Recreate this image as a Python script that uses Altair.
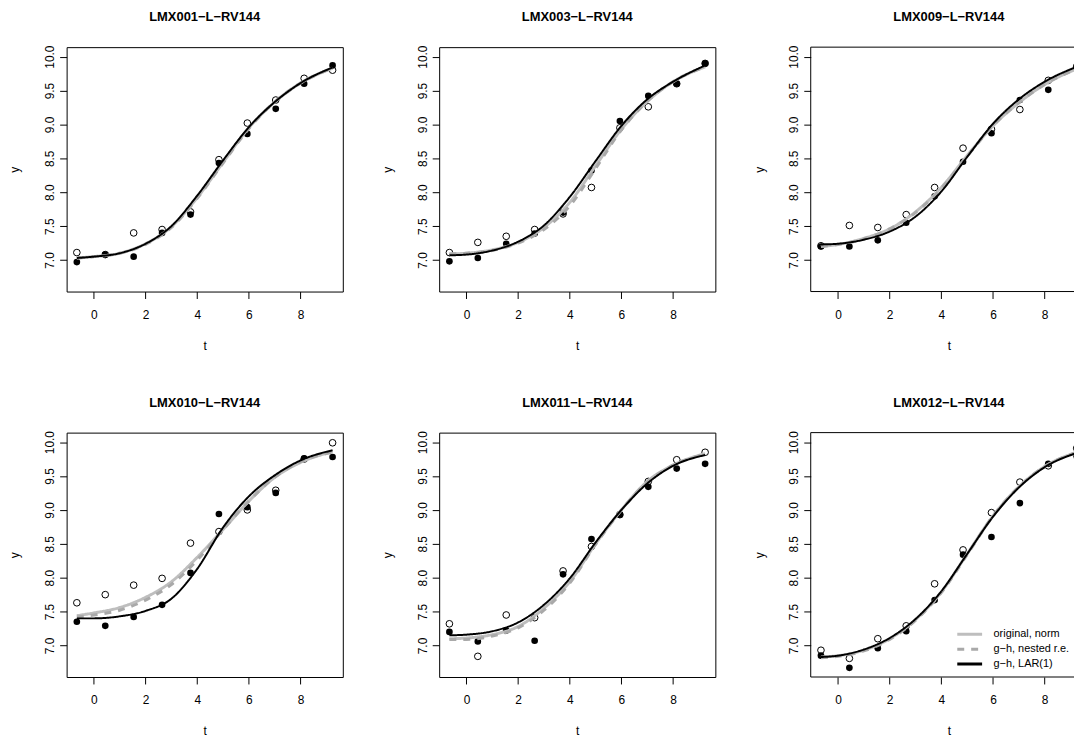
import altair as alt
import pandas as pd

TITLES = ["LMX001-L-RV144", "LMX003-L-RV144", "LMX009-L-RV144",
          "LMX010-L-RV144", "LMX011-L-RV144", "LMX012-L-RV144"]
TITLES = [s.replace("-", "\u2212") for s in TITLES]

T_OBS = [-0.66, 0.44, 1.54, 2.64, 3.74, 4.84, 5.94, 7.04, 8.14, 9.24]

OPEN = [
    [7.11, 7.08, 7.40, 7.45, 7.71, 8.48, 9.02, 9.36, 9.68, 9.80],
    [7.11, 7.26, 7.35, 7.45, 7.68, 8.07, 8.95, 9.26, 9.60, 9.90],
    [7.21, 7.51, 7.48, 7.67, 8.07, 8.65, 8.93, 9.22, 9.65, 9.85],
    [7.63, 7.75, 7.89, 7.99, 8.51, 8.68, 9.00, 9.29, 9.75, 9.99],
    [7.32, 6.84, 7.45, 7.41, 8.10, 8.46, 8.93, 9.42, 9.74, 9.85],
    [6.93, 6.81, 7.10, 7.29, 7.91, 8.41, 8.96, 9.41, 9.65, 9.91],
]
FILLED = [
    [6.97, 7.08, 7.05, 7.40, 7.67, 8.43, 8.86, 9.23, 9.60, 9.87],
    [6.98, 7.03, 7.24, 7.39, 7.70, 8.32, 9.05, 9.42, 9.60, 9.90],
    [7.20, 7.20, 7.29, 7.55, 7.94, 8.45, 8.87, 9.36, 9.51, 9.86],
    [7.35, 7.29, 7.42, 7.60, 8.07, 8.94, 9.04, 9.25, 9.76, 9.78],
    [7.20, 7.06, 7.22, 7.07, 8.05, 8.57, 8.93, 9.34, 9.61, 9.68],
    [6.85, 6.67, 6.96, 7.21, 7.67, 8.34, 8.60, 9.10, 9.68, 9.79],
]

T_CURVE = [-0.66, 0, 1, 2, 3, 4, 5, 6, 7, 8, 9.24]

NORM = [
    [7.03, 7.05, 7.10, 7.24, 7.49, 7.92, 8.44, 8.95, 9.33, 9.61, 9.83],
    [7.09, 7.10, 7.15, 7.26, 7.48, 7.85, 8.39, 8.93, 9.34, 9.63, 9.85],
    [7.20, 7.23, 7.32, 7.46, 7.71, 8.07, 8.54, 8.98, 9.32, 9.59, 9.82],
    [7.44, 7.48, 7.56, 7.71, 7.94, 8.30, 8.71, 9.13, 9.48, 9.70, 9.86],
    [7.10, 7.11, 7.16, 7.28, 7.55, 7.94, 8.50, 9.00, 9.42, 9.66, 9.83],
    [6.83, 6.85, 6.93, 7.10, 7.38, 7.79, 8.35, 8.91, 9.34, 9.64, 9.85],
]
NESTED = [
    [7.03, 7.05, 7.10, 7.23, 7.48, 7.91, 8.43, 8.94, 9.33, 9.61, 9.83],
    [7.09, 7.10, 7.14, 7.25, 7.45, 7.80, 8.35, 8.92, 9.34, 9.63, 9.85],
    [7.20, 7.23, 7.31, 7.46, 7.70, 8.06, 8.53, 8.98, 9.32, 9.59, 9.82],
    [7.42, 7.45, 7.52, 7.67, 7.90, 8.26, 8.71, 9.13, 9.48, 9.71, 9.85],
    [7.09, 7.09, 7.14, 7.26, 7.52, 7.92, 8.49, 9.00, 9.41, 9.66, 9.82],
    [6.82, 6.84, 6.92, 7.09, 7.37, 7.78, 8.34, 8.91, 9.34, 9.64, 9.85],
]
LAR = [
    [7.03, 7.05, 7.10, 7.24, 7.50, 7.95, 8.47, 8.96, 9.33, 9.61, 9.84],
    [7.07, 7.08, 7.14, 7.27, 7.51, 7.93, 8.46, 8.98, 9.37, 9.63, 9.87],
    [7.23, 7.24, 7.30, 7.42, 7.64, 8.01, 8.52, 9.01, 9.37, 9.63, 9.85],
    [7.40, 7.40, 7.43, 7.51, 7.69, 8.13, 8.74, 9.20, 9.51, 9.73, 9.88],
    [7.15, 7.16, 7.21, 7.34, 7.60, 7.99, 8.52, 9.00, 9.39, 9.65, 9.81],
    [6.83, 6.85, 6.94, 7.11, 7.39, 7.80, 8.35, 8.90, 9.33, 9.63, 9.84],
]

MODELS = ["original, norm", "g\u2212h, nested r.e.", "g\u2212h, LAR(1)"]
COLORS = ["#BEBEBE", "#A9A9A9", "#000000"]
DASHES = [[1, 0], [7, 7], [1, 0]]
WIDTHS = [3, 3, 2]

FONT = "Liberation Sans"
X_MIN, X_MAX = -1.056, 9.636
Y_DOMAIN = [6.535, 10.14]
W, H = 278, 246
W_CUT = 265  # right column is cut by the picture's edge


def panel(i):
    cut = (i % 3 == 2)
    w = W_CUT if cut else W
    x_max = X_MIN + (X_MAX - X_MIN) * w / W
    pts = pd.DataFrame({
        "t": T_OBS * 2,
        "y": OPEN[i] + FILLED[i],
        "kind": ["open"] * len(T_OBS) + ["filled"] * len(T_OBS),
    })
    curves = pd.DataFrame({
        "t": T_CURVE * 3,
        "y": NORM[i] + NESTED[i] + LAR[i],
        "model": [MODELS[0]] * len(T_CURVE) + [MODELS[1]] * len(T_CURVE) + [MODELS[2]] * len(T_CURVE),
    })
    xenc = alt.X("t:Q", scale=alt.Scale(domain=[X_MIN, x_max], nice=False, zero=False),
                 axis=alt.Axis(values=[0, 2, 4, 6, 8], title="t", titlePadding=20,
                               labelPadding=11, titleX=W / 2, titleAlign="center"))
    yenc = alt.Y("y:Q", scale=alt.Scale(domain=Y_DOMAIN, nice=False, zero=False),
                 axis=alt.Axis(values=[7.0, 7.5, 8.0, 8.5, 9.0, 9.5, 10.0], format=".1f",
                               title="y", labelAngle=-90, labelAlign="center",
                               labelBaseline="bottom", labelPadding=3, titlePadding=22))
    base_p = alt.Chart(pts)
    open_pts = base_p.transform_filter(alt.datum.kind == "open").mark_point(
        shape="circle", filled=False, fill="white", fillOpacity=1, stroke="black",
        strokeWidth=1, size=45, opacity=1, clip=cut).encode(x=xenc, y=yenc)
    filled_pts = base_p.transform_filter(alt.datum.kind == "filled").mark_circle(
        color="black", size=45, opacity=1, clip=cut).encode(x=xenc, y=yenc)
    legend = alt.Legend(title=None, orient="none", legendX=895, legendY=584,
                        symbolType="stroke", symbolSize=625, symbolStrokeWidth=3,
                        labelFont=FONT, labelFontSize=11, labelColor="black",
                        clipHeight=14, rowPadding=1, labelOffset=10)
    layers = [open_pts, filled_pts]
    for k in range(3):
        ln = alt.Chart(curves).transform_filter(alt.datum.model == MODELS[k]).mark_line(
            strokeWidth=WIDTHS[k], interpolate="monotone", clip=cut).encode(
            x=xenc, y=yenc,
            color=alt.Color("model:N", scale=alt.Scale(domain=MODELS, range=COLORS), legend=legend),
            strokeDash=alt.StrokeDash("model:N", scale=alt.Scale(domain=MODELS, range=DASHES), legend=legend),
        )
        layers.append(ln)
    props = dict(width=w, height=H,
                 title=alt.TitleParams(TITLES[i], fontSize=13, fontWeight="bold", font=FONT,
                                       color="black", frame="group", anchor="middle",
                                       baseline="alphabetic", offset=11,
                                       dx=(W - w) / 2 if cut else 0))
    if cut:
        one = pd.DataFrame({"a": [0]})
        frame = alt.Chart(one).mark_rule(color="black", strokeWidth=1)
        layers += [
            frame.encode(x=alt.value(0), x2=alt.value(w), y=alt.value(0)),
            frame.encode(x=alt.value(0), x2=alt.value(w), y=alt.value(H)),
            frame.encode(x=alt.value(0), y=alt.value(0), y2=alt.value(H)),
        ]
        props["view"] = alt.ViewBackground(stroke=None)
    return alt.layer(*layers).properties(**props)


row1 = alt.hconcat(panel(0), panel(1), panel(2), spacing=37)
row2 = alt.hconcat(panel(3), panel(4), panel(5), spacing=37)
chart = alt.vconcat(row1, row2, spacing=44).properties(
    padding={"left": 0, "top": 0, "right": 0, "bottom": 0}
).configure(background="white").configure_view(
    stroke="black", strokeWidth=1
).configure_axis(
    grid=False, domain=False, tickColor="black", tickSize=7, tickWidth=1,
    labelFont=FONT, labelFontSize=12, labelColor="black",
    titleFont=FONT, titleFontSize=12, titleFontWeight="normal", titleColor="black",
)

chart.save("out.html", embed_options={"renderer": "svg", "actions": False})
